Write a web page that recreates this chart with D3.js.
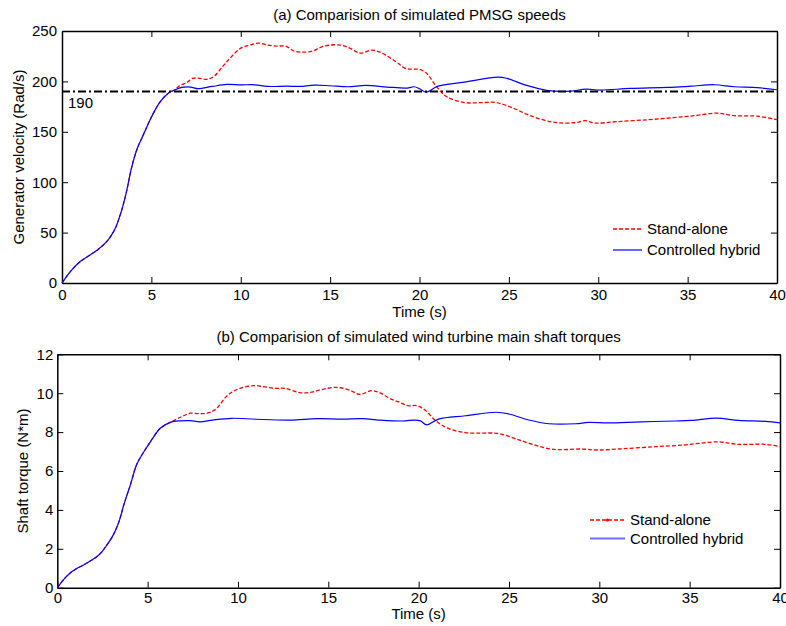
<!DOCTYPE html>
<html>
<head>
<meta charset="utf-8">
<script src="https://cdn.jsdelivr.net/npm/d3@7"></script>
<style>
  body { margin: 0; background: #fff; }
  svg text { font-family: "Liberation Sans", Arial, sans-serif; font-size: 15px; fill: #000; }
</style>
</head>
<body>
<div id="chart"></div>
<script>
// shared x ticks
const timeTicks = [0, 5, 10, 15, 20, 25, 30, 35, 40];

// (a) generator speed, both runs are the same until ~6 s
const speedRiseT = [0, 0.5, 1, 1.5, 2, 2.5, 2.75, 3, 3.3, 3.6, 3.9, 4.2, 4.5, 4.8, 5.1, 5.5, 6, 6.3];
const speedRise  = [0, 12, 21, 27, 33, 41, 47, 55, 70, 90, 115, 133, 145, 157, 168, 180, 189, 191.5];

const standSpeedT = [6.6, 7, 7.3, 7.7, 8.1, 8.5, 9, 9.4, 10, 10.5, 11, 11.5, 12, 12.5, 13, 13.5, 14, 14.5, 15,
  15.6, 16.1, 16.7, 17.3, 17.8, 18.3, 18.8, 19.2, 19.6, 20, 20.4, 20.9, 21.5, 22.5, 23.5, 24.3, 25.3, 26.2,
  27.5, 28.7, 29.3, 29.8, 31, 32.8, 34.2, 35.4, 36.6, 37.6, 38.9, 40];
const standSpeed  = [196, 199, 203, 203, 202, 205, 215, 223, 233, 236, 238, 236, 235, 235, 230, 229, 230, 234, 236,
  236, 233, 228, 231, 229, 224, 218, 213, 212, 212, 208, 196, 185, 179, 179, 179, 173, 166,
  159.5, 159, 161, 158.7, 160, 162, 164, 166, 168.5, 166, 165.5, 162];

const hybridSpeedT = [6.7, 7.2, 7.6, 8.4, 9.2, 10, 10.8, 11.5, 12.6, 13.3, 14.1, 15, 16, 17, 18.2, 19.3, 19.7, 20,
  20.4, 21, 22.5, 24.4, 24.9, 26, 27.2, 28.5, 29.3, 30.1, 31.8, 33.9, 35.2, 36.5, 37.6, 38.9, 40];
const hybridSpeed  = [194, 194.4, 192.8, 195, 197, 196.6, 196.6, 195, 195.3, 195, 196.3, 195.7, 194.7, 196, 194.4, 193.4, 194.7, 192.7,
  189.4, 195, 199.3, 204.3, 203, 196, 190.8, 190.4, 192.4, 191.4, 193, 194, 195.3, 196.7, 194.7, 193.8, 191.7];

const refSpeed = 190;

// (b) main shaft torque
const torqueRiseT = [0, 0.35, 0.7, 1.05, 1.45, 1.8, 2.2, 2.5, 2.75, 3, 3.2, 3.45, 3.65, 3.85, 4.05, 4.4, 4.8, 5.15, 5.7, 6.25];
const torqueRise  = [0, 0.42, 0.74, 0.97, 1.17, 1.36, 1.6, 1.88, 2.2, 2.55, 2.9, 3.5, 4.16, 4.75, 5.3, 6.35, 7.0, 7.5, 8.2, 8.5];

const standTorqueT = [6.9, 7.35, 7.8, 8.3, 8.8, 9.4, 10.1, 10.9, 11.5, 12.1, 12.6, 13.4, 14, 14.6, 15.3, 15.7, 16.2,
  16.75, 17.4, 17.9, 18.4, 18.9, 19.4, 19.9, 20.35, 20.9, 21.6, 22.6, 23.5, 24.4, 25.3, 26.3, 27.5, 29, 29.9,
  31.2, 33.1, 34.6, 35.5, 36.6, 37.7, 39.2, 40];
const standTorque  = [8.8, 8.97, 8.95, 8.97, 9.2, 9.87, 10.25, 10.39, 10.32, 10.25, 10.25, 10.03, 10.04, 10.18, 10.3, 10.28, 10.15,
  9.94, 10.13, 10.0, 9.73, 9.55, 9.36, 9.36, 9.14, 8.62, 8.2, 7.97, 7.95, 7.93, 7.68, 7.37, 7.11, 7.13, 7.08,
  7.14, 7.25, 7.33, 7.42, 7.5, 7.37, 7.37, 7.25];

const hybridTorqueT = [6.8, 7.35, 7.9, 8.6, 9.65, 11, 12.9, 14.35, 15.8, 16.9, 17.8, 19.1, 19.8, 20.1, 20.45, 21.1,
  22.6, 24.3, 25, 26.1, 27.2, 28.7, 29.4, 30.5, 32.3, 34.2, 35.1, 36.5, 37.7, 39.2, 40];
const hybridTorque  = [8.58, 8.59, 8.53, 8.62, 8.71, 8.66, 8.62, 8.69, 8.67, 8.69, 8.62, 8.57, 8.62, 8.58, 8.37, 8.67,
  8.84, 9.02, 8.93, 8.62, 8.43, 8.43, 8.5, 8.47, 8.53, 8.57, 8.6, 8.72, 8.6, 8.55, 8.47];

const legendLabels = ['Stand-alone', 'Controlled hybrid'];

const width = 786, height = 626;

const svg = d3.select('#chart')
  .append('svg')
    .attr('width', width)
    .attr('height', height);

function series(riseT, rise, tailT, tail) {
  return d3.zip(riseT.concat(tailT), rise.concat(tail));
}

function drawPanel(p) {
  let x_scale = d3.scaleLinear().domain([0, 40]).range([p.left, p.right]);
  let y_scale = d3.scaleLinear().domain(p.yDomain).range([p.bottom, p.top]);
  let plot = svg.append('g');

  let styleAxis = (g) => {
    g.select('.domain').attr('stroke', '#000').attr('stroke-width', 1.5);
    g.selectAll('.tick line').attr('stroke', '#000');
    g.selectAll('.tick text').style('font-size', '15px');
  };

  // Axes with inward ticks on all four sides
  plot.append('g')
    .attr('transform', `translate(0,${p.bottom})`)
    .call(d3.axisBottom(x_scale).tickValues(timeTicks).tickSize(-6).tickSizeOuter(0).tickPadding(p.xPad))
    .call(styleAxis);
  plot.append('g')
    .attr('transform', `translate(0,${p.top})`)
    .call(d3.axisTop(x_scale).tickValues(timeTicks).tickSize(-6).tickSizeOuter(0).tickFormat(() => ''))
    .call(styleAxis);
  plot.append('g')
    .attr('transform', `translate(${p.left},0)`)
    .call(d3.axisLeft(y_scale).tickValues(p.yTicks).tickSize(-6).tickSizeOuter(0).tickPadding(p.yPad))
    .call(styleAxis);
  plot.append('g')
    .attr('transform', `translate(${p.right},0)`)
    .call(d3.axisRight(y_scale).tickValues(p.yTicks).tickSize(-6).tickSizeOuter(0).tickFormat(() => ''))
    .call(styleAxis);

  let line = d3.line()
    .x(d => x_scale(d[0]))
    .y(d => y_scale(d[1]))
    .curve(d3.curveCatmullRom.alpha(0.5));

  plot.append('path')
    .datum(p.stand)
    .attr('d', line)
    .attr('fill', 'none')
    .attr('stroke', '#ff0000')
    .attr('stroke-width', 1.3)
    .attr('stroke-dasharray', '4,2');

  plot.append('path')
    .datum(p.hybrid)
    .attr('d', line)
    .attr('fill', 'none')
    .attr('stroke', '#0000ff')
    .attr('stroke-width', 1.2);

  // Titles
  svg.append('text')
    .attr('x', (p.left + p.right) / 2)
    .attr('y', p.titleY)
    .attr('text-anchor', 'middle')
    .text(p.title);
  svg.append('text')
    .attr('x', (p.left + p.right) / 2)
    .attr('y', p.xLabelY)
    .attr('text-anchor', 'middle')
    .text('Time (s)');
  svg.append('text')
    .attr('transform', `translate(${p.yLabelX},${(p.top + p.bottom) / 2}) rotate(-90)`)
    .attr('text-anchor', 'middle')
    .text(p.yLabel);

  // Legend, no box
  let lg = svg.append('g').attr('transform', `translate(${p.legend[0]},${p.legend[1]})`);
  legendLabels.forEach((label, i) => {
    let yy = i * p.legendStep;
    lg.append('line')
      .attr('x1', 0).attr('x2', p.legendLen)
      .attr('y1', yy).attr('y2', yy)
      .attr('stroke', i == 0 ? '#ff0000' : p.legendBlue)
      .attr('stroke-width', i == 0 ? 1.3 : p.legendBlueWidth)
      .attr('stroke-dasharray', i == 0 ? '4,2' : null);
    if (i == 0 && p.legendDot) {
      lg.append('circle')
        .attr('cx', p.legendLen / 2).attr('cy', yy).attr('r', 1.6)
        .attr('fill', '#ff0000');
    }
    lg.append('text')
      .attr('x', p.legendLen + 5)
      .attr('y', yy)
      .attr('dy', '0.35em')
      .text(label);
  });

  return { plot, x_scale, y_scale };
}

let speedPanel = drawPanel({
  left: 62, right: 777, top: 31, bottom: 283,
  yDomain: [0, 250], yTicks: [0, 50, 100, 150, 200, 250],
  xPad: 6, yPad: 5,
  stand: series(speedRiseT, speedRise, standSpeedT, standSpeed),
  hybrid: series(speedRiseT, speedRise, hybridSpeedT, hybridSpeed),
  title: '(a) Comparision of simulated PMSG speeds', titleY: 19.5,
  xLabelY: 316.5, yLabelX: 24, yLabel: 'Generator velocity (Rad/s)',
  legend: [613, 229], legendStep: 21, legendLen: 29,
  legendBlue: '#0000ff', legendBlueWidth: 1.2, legendDot: false
});

// 190 rad/s reference line
speedPanel.plot.append('line')
  .attr('x1', speedPanel.x_scale(0)).attr('x2', speedPanel.x_scale(40))
  .attr('y1', speedPanel.y_scale(refSpeed)).attr('y2', speedPanel.y_scale(refSpeed))
  .attr('stroke', '#000')
  .attr('stroke-width', 2)
  .attr('stroke-dasharray', '8,3,2,3');
speedPanel.plot.append('text')
  .attr('x', speedPanel.x_scale(0) + 6)
  .attr('y', speedPanel.y_scale(refSpeed) + 17)
  .text(refSpeed);

drawPanel({
  left: 57.3, right: 780, top: 354.3, bottom: 587.7,
  yDomain: [0, 12], yTicks: [0, 2, 4, 6, 8, 10, 12],
  xPad: 4.5, yPad: 4,
  stand: series(torqueRiseT, torqueRise, standTorqueT, standTorque),
  hybrid: series(torqueRiseT, torqueRise, hybridTorqueT, hybridTorque),
  title: '(b) Comparision of simulated wind turbine main shaft torques', titleY: 342,
  xLabelY: 619, yLabelX: 28, yLabel: 'Shaft torque (N*m)',
  legend: [590, 520], legendStep: 18.5, legendLen: 35,
  legendBlue: '#6f6fff', legendBlueWidth: 2, legendDot: true
});
</script>
</body>
</html>
